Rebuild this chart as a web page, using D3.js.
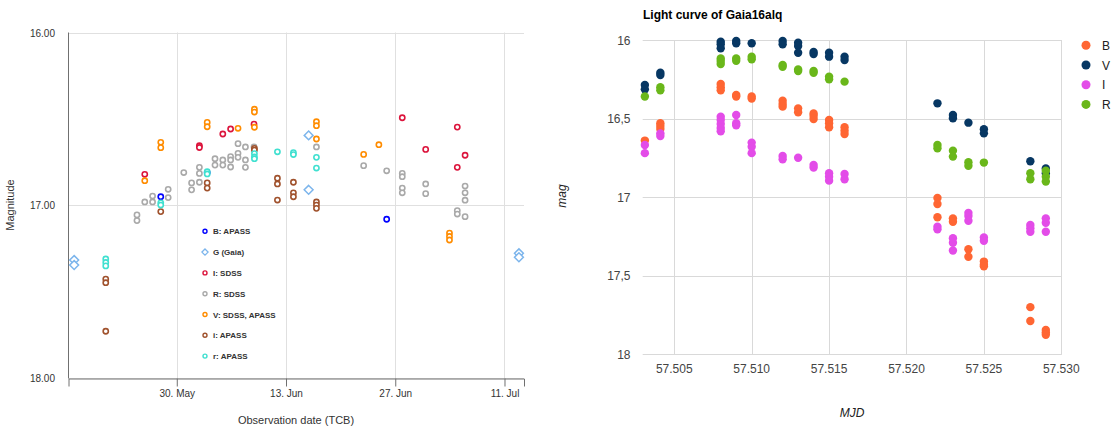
<!DOCTYPE html>
<html>
<head>
    <script src="https://cdn.jsdelivr.net/npm/d3@7"></script>
    <style>
        html, body {
            padding: 0;
            margin: 0;
            background: #fff;
        }
        text {
            font-family: "Liberation Sans", Arial, sans-serif;
        }
    </style>
</head>
<body>
<script>
    var width = 1114, height = 430;

    // ---- left chart data (date, magnitude) ----
    var bApass = [["2016-05-27T22:48Z", 16.95], ["2016-06-02T21:36Z", 16.81], ["2016-06-25T21:36Z", 17.08]];
    var gGaia = [["2016-05-16T20:24Z", 17.316], ["2016-05-16T20:24Z", 17.345], ["2016-06-15T21:36Z", 16.595],
        ["2016-06-15T21:36Z", 16.91], ["2016-07-12T20:24Z", 17.277], ["2016-07-12T20:24Z", 17.30]];
    var iSdss = [["2016-05-25T21:36Z", 16.82], ["2016-06-01T21:36Z", 16.655], ["2016-06-01T21:36Z", 16.665],
        ["2016-06-04T21:36Z", 16.587], ["2016-06-05T21:36Z", 16.558], ["2016-06-08T21:36Z", 16.53],
        ["2016-06-27T21:36Z", 16.493], ["2016-06-30T21:36Z", 16.676], ["2016-07-04T22:48Z", 16.547],
        ["2016-07-04T22:48Z", 16.78], ["2016-07-05T22:48Z", 16.71]];
    var rSdss = [["2016-05-24T21:36Z", 17.055], ["2016-05-24T21:36Z", 17.088], ["2016-05-25T21:36Z", 16.98],
        ["2016-05-26T21:36Z", 16.946], ["2016-05-26T21:36Z", 16.98], ["2016-05-28T21:36Z", 16.907],
        ["2016-05-28T21:36Z", 16.955], ["2016-05-30T21:36Z", 16.81], ["2016-05-31T21:36Z", 16.87],
        ["2016-05-31T21:36Z", 16.91], ["2016-06-01T21:36Z", 16.78], ["2016-06-01T21:36Z", 16.815],
        ["2016-06-01T21:36Z", 16.866], ["2016-06-03T21:36Z", 16.73], ["2016-06-03T21:36Z", 16.767],
        ["2016-06-04T21:36Z", 16.737], ["2016-06-04T21:36Z", 16.767], ["2016-06-05T21:36Z", 16.718],
        ["2016-06-05T21:36Z", 16.737], ["2016-06-05T21:36Z", 16.778], ["2016-06-06T20:24Z", 16.643],
        ["2016-06-06T20:24Z", 16.699], ["2016-06-06T20:24Z", 16.722], ["2016-06-07T19:12Z", 16.662],
        ["2016-06-07T19:12Z", 16.737], ["2016-06-07T19:12Z", 16.78], ["2016-06-08T21:36Z", 16.662],
        ["2016-06-16T21:36Z", 16.662], ["2016-06-22T22:48Z", 16.77], ["2016-06-25T21:36Z", 16.80],
        ["2016-06-27T21:36Z", 16.815], ["2016-06-27T21:36Z", 16.834], ["2016-06-27T21:36Z", 16.90],
        ["2016-06-27T21:36Z", 16.927], ["2016-06-30T21:36Z", 16.876], ["2016-06-30T21:36Z", 16.932],
        ["2016-07-04T22:48Z", 17.03], ["2016-07-04T22:48Z", 17.05], ["2016-07-05T22:48Z", 16.888],
        ["2016-07-05T22:48Z", 16.927], ["2016-07-05T22:48Z", 16.97], ["2016-07-05T22:48Z", 17.065]];
    var vSdssApass = [["2016-05-25T21:36Z", 16.857], ["2016-05-27T22:48Z", 16.635], ["2016-05-27T22:48Z", 16.666],
        ["2016-06-02T21:36Z", 16.52], ["2016-06-02T21:36Z", 16.545], ["2016-06-06T20:24Z", 16.554],
        ["2016-06-08T22:48Z", 16.444], ["2016-06-08T22:48Z", 16.46], ["2016-06-08T22:48Z", 16.548],
        ["2016-06-16T21:36Z", 16.516], ["2016-06-16T21:36Z", 16.539], ["2016-06-16T21:36Z", 16.616],
        ["2016-06-22T22:48Z", 16.705], ["2016-06-24T21:36Z", 16.649], ["2016-07-03T22:48Z", 17.16],
        ["2016-07-03T22:48Z", 17.18], ["2016-07-03T22:48Z", 17.20]];
    var iApass = [["2016-05-20T21:36Z", 17.426], ["2016-05-20T21:36Z", 17.447], ["2016-05-20T21:36Z", 17.728],
        ["2016-05-27T22:48Z", 17.036], ["2016-06-02T21:36Z", 16.87], ["2016-06-02T21:36Z", 16.90],
        ["2016-06-08T22:48Z", 16.67], ["2016-06-08T22:48Z", 16.68], ["2016-06-11T21:36Z", 16.843],
        ["2016-06-11T21:36Z", 16.876], ["2016-06-11T21:36Z", 16.969], ["2016-06-13T22:48Z", 16.866],
        ["2016-06-13T22:48Z", 16.927], ["2016-06-13T22:48Z", 16.95], ["2016-06-16T21:36Z", 16.98],
        ["2016-06-16T21:36Z", 16.998], ["2016-06-16T21:36Z", 17.017]];
    var rApass = [["2016-05-20T21:36Z", 17.31], ["2016-05-20T21:36Z", 17.33], ["2016-05-20T21:36Z", 17.35],
        ["2016-05-27T22:48Z", 16.985], ["2016-05-27T22:48Z", 16.998], ["2016-06-02T21:36Z", 16.805],
        ["2016-06-02T21:36Z", 16.818], ["2016-06-08T22:48Z", 16.70], ["2016-06-08T22:48Z", 16.72],
        ["2016-06-08T22:48Z", 16.73], ["2016-06-11T21:36Z", 16.69], ["2016-06-13T22:48Z", 16.695],
        ["2016-06-13T22:48Z", 16.706], ["2016-06-16T21:36Z", 16.722], ["2016-06-16T21:36Z", 16.784]];

    var leftNames = ["B: APASS", "G (Gaia)", "I: SDSS", "R: SDSS", "V: SDSS, APASS", "i: APASS", "r: APASS"];
    var leftColors = ["#0000ff", "#7cb5ec", "#dc143c", "#a9a9a9", "#ff8c00", "#a0522d", "#40e0d0"];
    var leftSeries = [bApass, gGaia, iSdss, rSdss, vSdssApass, iApass, rApass];
    var leftDateTicks = ["2016-05-30T00:00Z", "2016-06-13T00:00Z", "2016-06-27T00:00Z", "2016-07-11T00:00Z"];
    var leftMagTicks = [16, 17, 18];

    // ---- right chart data (MJD/1000, mag) ----
    var mjdB = [57.5031, 57.5041, 57.5041, 57.5041, 57.508, 57.508, 57.508, 57.509, 57.509, 57.510, 57.510,
        57.512, 57.512, 57.512, 57.513, 57.513, 57.514, 57.514, 57.514, 57.515, 57.515, 57.515,
        57.516, 57.516, 57.516, 57.522, 57.522, 57.522, 57.523, 57.523, 57.524, 57.524,
        57.525, 57.525, 57.525, 57.528, 57.528, 57.529, 57.529, 57.529];
    var magB = [16.64, 16.53, 16.547, 16.566, 16.28, 16.30, 16.32, 16.35, 16.36, 16.36, 16.373,
        16.386, 16.407, 16.424, 16.435, 16.46, 16.467, 16.482, 16.503, 16.509, 16.53, 16.555,
        16.555, 16.577, 16.598, 17.005, 17.044, 17.128, 17.135, 17.157, 17.332, 17.379,
        17.41, 17.43, 17.44, 17.70, 17.788, 17.845, 17.862, 17.876];
    var mjdV = [57.5031, 57.5031, 57.5041, 57.5041, 57.508, 57.508, 57.508, 57.509, 57.509, 57.510,
        57.512, 57.512, 57.513, 57.513, 57.513, 57.514, 57.514, 57.515, 57.515, 57.516, 57.516,
        57.522, 57.523, 57.523, 57.524, 57.525, 57.525, 57.528, 57.529, 57.529];
    var magV = [16.286, 16.314, 16.208, 16.223, 16.011, 16.027, 16.053, 16.006, 16.021, 16.021,
        16.006, 16.027, 16.017, 16.038, 16.081, 16.076, 16.089, 16.081, 16.106, 16.106, 16.127,
        16.403, 16.477, 16.498, 16.526, 16.568, 16.594, 16.772, 16.817, 16.848];
    var mjdI = [57.5031, 57.5031, 57.5041, 57.5041, 57.508, 57.508, 57.508, 57.508, 57.508,
        57.509, 57.509, 57.509, 57.510, 57.510, 57.510, 57.512, 57.512, 57.513, 57.514, 57.514,
        57.515, 57.515, 57.515, 57.516, 57.516, 57.522, 57.522, 57.523, 57.523, 57.523,
        57.524, 57.524, 57.524, 57.525, 57.525, 57.528, 57.528, 57.528, 57.529, 57.529, 57.529];
    var magI = [16.668, 16.72, 16.594, 16.611, 16.488, 16.509, 16.535, 16.56, 16.581,
        16.477, 16.53, 16.543, 16.653, 16.679, 16.72, 16.738, 16.759, 16.749, 16.795, 16.812,
        16.848, 16.87, 16.895, 16.853, 16.886, 17.188, 17.205, 17.262, 17.29, 17.34,
        17.10, 17.12, 17.15, 17.256, 17.278, 17.177, 17.198, 17.22, 17.135, 17.163, 17.22];
    var mjdR = [57.5031, 57.5041, 57.5041, 57.508, 57.508, 57.508, 57.509, 57.509, 57.510, 57.510,
        57.512, 57.512, 57.513, 57.513, 57.514, 57.514, 57.515, 57.515, 57.516,
        57.522, 57.522, 57.523, 57.523, 57.524, 57.524, 57.525, 57.528, 57.528, 57.529, 57.529, 57.529];
    var magR = [16.36, 16.30, 16.32, 16.117, 16.134, 16.153, 16.117, 16.132, 16.106, 16.123,
        16.159, 16.17, 16.187, 16.197, 16.197, 16.208, 16.233, 16.25, 16.265,
        16.668, 16.689, 16.704, 16.742, 16.778, 16.80, 16.78, 16.848, 16.886, 16.832, 16.87, 16.90];

    var rightNames = ["B", "V", "I", "R"];
    var rightColors = ["#ff6633", "#073763", "#e34ce8", "#6ab71a"];
    var rightX = [mjdB, mjdV, mjdI, mjdR];
    var rightY = [magB, magV, magI, magR];
    var rightXTicks = [57.505, 57.510, 57.515, 57.520, 57.525, 57.530];
    var rightYTicks = [16, 16.5, 17, 17.5, 18];

    var svg = d3.select("body").append("svg")
        .attr("width", width)
        .attr("height", height)
        .style("background", "#fff");

    // ================= LEFT CHART =================
    var lx = d3.scaleUtc()
        .domain([new Date("2016-05-16T03:00Z"), new Date("2016-07-13T12:00Z")])
        .range([68.5, 524]);
    var ly = d3.scaleLinear().domain([16, 18]).range([32.5, 378.3]);

    var left = svg.append("g");

    // gridlines
    left.selectAll(".lhg").data(leftMagTicks).enter().append("line")
        .attr("x1", 68.5).attr("x2", 524)
        .attr("y1", d => Math.round(ly(d)) + 0.5).attr("y2", d => Math.round(ly(d)) + 0.5)
        .attr("stroke", "#e0e0e0");
    left.selectAll(".lvg").data(leftDateTicks).enter().append("line")
        .attr("x1", d => Math.round(lx(new Date(d))) + 0.5).attr("x2", d => Math.round(lx(new Date(d))) + 0.5)
        .attr("y1", 32.5).attr("y2", 378.3)
        .attr("stroke", "#e0e0e0");

    // x axis
    var fmtDate = d3.utcFormat("%-d. %b");
    var xAxis = d3.axisBottom(lx)
        .tickValues(leftDateTicks.map(d => new Date(d)))
        .tickFormat(fmtDate)
        .tickSize(8)
        .tickPadding(3);
    var gx = left.append("g").attr("transform", "translate(0,378.5)").call(xAxis);
    gx.select(".domain").attr("stroke", "#707070");
    gx.selectAll(".tick line").attr("stroke", "#707070");
    gx.selectAll("text").attr("fill", "#333").style("font-size", "10px")
        .style("font-family", "'Liberation Sans', Arial, sans-serif");

    // y axis
    left.append("line").attr("x1", 68.5).attr("x2", 68.5).attr("y1", 32.5).attr("y2", 378.5)
        .attr("stroke", "#707070");
    left.selectAll(".lyl").data(leftMagTicks).enter().append("text")
        .attr("x", 55).attr("y", d => ly(d) + 4)
        .attr("text-anchor", "end")
        .attr("fill", "#333").style("font-size", "10px")
        .text(d => d3.format(".2f")(d));

    left.append("text")
        .attr("transform", "translate(14,205) rotate(-90)")
        .attr("text-anchor", "middle")
        .attr("fill", "#333").style("font-size", "11px")
        .text("Magnitude");
    left.append("text")
        .attr("x", 296).attr("y", 424)
        .attr("text-anchor", "middle")
        .attr("fill", "#333").style("font-size", "11px")
        .text("Observation date (TCB)");

    // points
    var diamond = d3.symbol().type(d3.symbolDiamond2).size(50);
    leftSeries.forEach(function (s, i) {
        var g = left.append("g");
        if (i == 1) {
            g.selectAll("path").data(s).enter().append("path")
                .attr("d", diamond)
                .attr("transform", d => "translate(" + lx(new Date(d[0])) + "," + ly(d[1]) + ")")
                .attr("fill", "#fff").attr("stroke", leftColors[i]).attr("stroke-width", 1.5);
        } else {
            g.selectAll("circle").data(s).enter().append("circle")
                .attr("cx", d => lx(new Date(d[0])))
                .attr("cy", d => ly(d[1]))
                .attr("r", 2.6)
                .attr("fill", "#fff").attr("stroke", leftColors[i]).attr("stroke-width", 1.6);
        }
    });

    // legend
    var leg = left.append("g");
    leftNames.forEach(function (n, i) {
        var yy = 231.3 + i * 20.8;
        if (i == 1) {
            leg.append("path").attr("d", d3.symbol().type(d3.symbolDiamond2).size(24))
                .attr("transform", "translate(205," + yy + ")")
                .attr("fill", "#fff").attr("stroke", leftColors[i]).attr("stroke-width", 1.3);
        } else {
            leg.append("circle").attr("cx", 205).attr("cy", yy).attr("r", 2)
                .attr("fill", "#fff").attr("stroke", leftColors[i]).attr("stroke-width", 1.4);
        }
        leg.append("text").attr("x", 213).attr("y", yy + 3)
            .attr("fill", "#333").style("font-size", "8px").style("font-weight", "bold")
            .text(n);
    });

    // ================= RIGHT CHART =================
    var rx = d3.scaleLinear().domain([57.50296, 57.530]).range([642.7, 1061.3]);
    var ry = d3.scaleLinear().domain([16, 18]).range([40, 354.3]);
    var right = svg.append("g");

    right.selectAll(".rhg").data(rightYTicks).enter().append("line")
        .attr("x1", 642.7).attr("x2", 1061.8)
        .attr("y1", d => Math.round(ry(d)) + 0.5).attr("y2", d => Math.round(ry(d)) + 0.5)
        .attr("stroke", "#d9d9d9");
    right.selectAll(".rvg").data(rightXTicks).enter().append("line")
        .attr("x1", d => Math.round(rx(d)) + 0.5).attr("x2", d => Math.round(rx(d)) + 0.5)
        .attr("y1", 40).attr("y2", 354.5)
        .attr("stroke", "#d9d9d9");

    var commaFmt = d => d3.format("~g")(d).replace(".", ",");
    right.selectAll(".ryl").data(rightYTicks).enter().append("text")
        .attr("x", 630.5).attr("y", d => ry(d) + 4.5)
        .attr("text-anchor", "end")
        .attr("fill", "#444").style("font-size", "12px")
        .text(commaFmt);
    right.selectAll(".rxl").data(rightXTicks).enter().append("text")
        .attr("x", d => rx(d)).attr("y", 372.5)
        .attr("text-anchor", "middle")
        .attr("fill", "#444").style("font-size", "12px")
        .text(d => d3.format(".3f")(d));

    right.append("text")
        .attr("x", 643).attr("y", 18.5)
        .attr("fill", "#000").style("font-size", "12px").style("font-weight", "bold")
        .text("Light curve of Gaia16alq");
    right.append("text")
        .attr("transform", "translate(566,196) rotate(-90)")
        .attr("text-anchor", "middle")
        .attr("fill", "#222").style("font-size", "12px").style("font-style", "italic")
        .text("mag");
    right.append("text")
        .attr("x", 852).attr("y", 416.5)
        .attr("text-anchor", "middle")
        .attr("fill", "#222").style("font-size", "12px").style("font-style", "italic")
        .text("MJD");

    rightNames.forEach(function (n, i) {
        var pts = d3.zip(rightX[i], rightY[i]);
        right.append("g").selectAll("circle").data(pts).enter().append("circle")
            .attr("cx", d => rx(d[0]))
            .attr("cy", d => ry(d[1]))
            .attr("r", 4.2)
            .attr("fill", rightColors[i]);

        var yy = 45.3 + i * 19.7;
        right.append("circle").attr("cx", 1086).attr("cy", yy).attr("r", 4.5).attr("fill", rightColors[i]);
        right.append("text").attr("x", 1102).attr("y", yy + 4.5)
            .attr("fill", "#222").style("font-size", "12px")
            .text(n);
    });
</script>
</body>
</html>
